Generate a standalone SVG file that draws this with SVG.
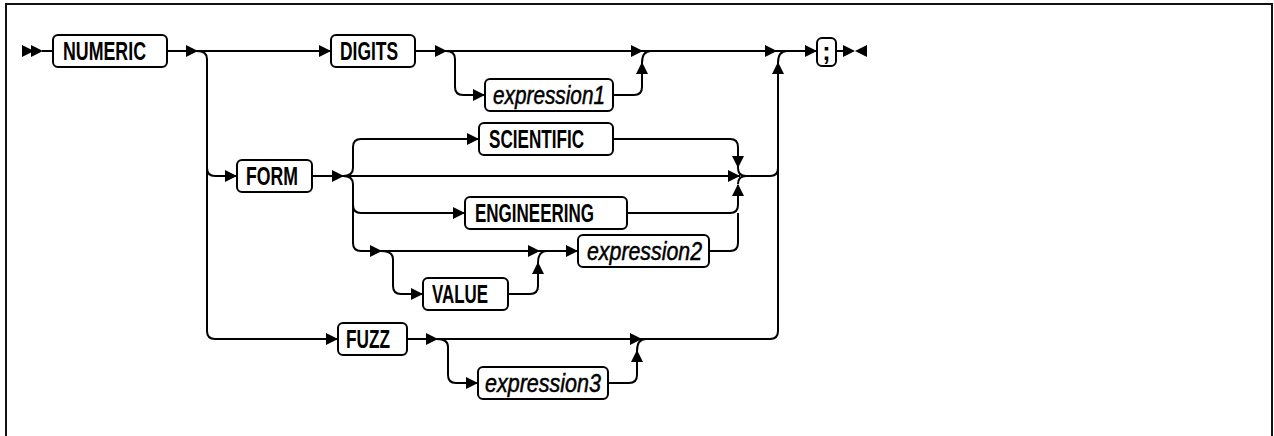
<svg xmlns="http://www.w3.org/2000/svg" xmlns:xlink="http://www.w3.org/1999/xlink" width="1274" height="436" viewBox="0 0 1274 436">
<style>
.bg{fill:#fff}
.frame{fill:none;stroke:#111;stroke-width:2}
.box{fill:#fff;stroke:#000;stroke-width:2}
.ln{fill:none;stroke:#000;stroke-width:2}
.kw{font-family:"Liberation Sans",Arial,sans-serif;font-weight:bold;font-size:25px;fill:#000}
.var{font-family:"Liberation Sans",Arial,sans-serif;font-style:italic;font-size:25px;fill:#000;stroke:#000;stroke-width:0.5}
.ah{fill:#000}
</style>
<defs>
<path id="ar" d="M-12,-6 L0,0 L-12,6 Z" class="ah"/>
<path id="au" d="M-6,12 L0,0 L6,12 Z" class="ah"/>
<path id="ad" d="M-6,-12 L0,0 L6,-12 Z" class="ah"/>
<path id="al" d="M12,-6 L0,0 L12,6 Z" class="ah"/>
</defs>
<rect class="bg" x="0" y="0" width="1274" height="436"/>
<rect class="frame" x="6" y="4" width="1266" height="460"/>

<g id="connectors">
<!-- start -->
<use href="#ar" x="34" y="51"/>
<use href="#ar" x="43" y="51"/>
<path class="ln" d="M42 51 H53"/>
<!-- NUMERIC to DIGITS -->
<path class="ln" d="M167 51 H331"/>
<use href="#ar" x="198" y="51"/>
<use href="#ar" x="331" y="51"/>
<path class="ln" d="M197 51 Q207 51 207 59 V331 Q207 339 215 339 H338"/>
<path class="ln" d="M207 168 Q207 176 215 176 H237"/>
<use href="#ar" x="237" y="176"/>
<use href="#ar" x="338" y="339"/>
<!-- DIGITS row -->
<path class="ln" d="M415 51 H817"/>
<use href="#ar" x="447" y="51"/>
<path class="ln" d="M446 51 Q455 51 455 59 V87 Q455 95 463 95 H485"/>
<use href="#ar" x="485" y="95"/>
<path class="ln" d="M613 95 H634 Q642 95 642 87 V63"/>
<use href="#au" x="642" y="62"/>
<path class="ln" d="M642 63 Q642 51 651 51"/>
<use href="#ar" x="643" y="51"/>
<use href="#ar" x="777" y="51"/>
<path class="ln" d="M778 331 V63"/>
<use href="#au" x="778" y="62"/>
<path class="ln" d="M778 63 Q778 51 787 51"/>
<use href="#ar" x="817" y="51"/>
<path class="ln" d="M836 51 H844"/>
<use href="#ar" x="855" y="51"/>
<use href="#al" x="855" y="51"/>
<!-- FORM block -->
<path class="ln" d="M312 176 H740"/>
<use href="#ar" x="344" y="176"/>
<path class="ln" d="M343 176 Q353 176 353 168 V147 Q353 139 361 139 H479"/>
<use href="#ar" x="479" y="139"/>
<path class="ln" d="M343 176 Q353 176 353 184 V243 Q353 251 361 251 H578"/>
<path class="ln" d="M353 205 Q353 213 361 213 H465"/>
<use href="#ar" x="465" y="213"/>
<path class="ln" d="M613 139 H730 Q738 139 738 147 V168"/>
<use href="#ad" x="738" y="168"/>
<path class="ln" d="M627 213 H730 Q738 213 738 205 V185"/>
<path class="ln" d="M709 251 H730 Q738 251 738 243 V213"/>
<use href="#au" x="738" y="184"/>
<use href="#ar" x="740" y="176"/>
<path class="ln" d="M738 168 Q738 176 746 176 M738 184 Q738 176 746 176 H770 Q778 176 778 168"/>
<!-- VALUE / expression2 -->
<use href="#ar" x="382" y="251"/>
<path class="ln" d="M381 251 Q393 251 393 259 V286 Q393 294 401 294 H423"/>
<use href="#ar" x="423" y="294"/>
<path class="ln" d="M508 294 H530 Q538 294 538 286 V263"/>
<use href="#au" x="538" y="262"/>
<path class="ln" d="M538 263 Q538 251 547 251"/>
<use href="#ar" x="540" y="251"/>
<use href="#ar" x="578" y="251"/>
<!-- FUZZ row -->
<path class="ln" d="M407 339 H770 Q778 339 778 331"/>
<use href="#ar" x="438" y="339"/>
<path class="ln" d="M437 339 Q448 339 448 347 V375 Q448 383 456 383 H478"/>
<use href="#ar" x="478" y="383"/>
<path class="ln" d="M608 383 H629 Q637 383 637 375 V351"/>
<use href="#au" x="637" y="350"/>
<path class="ln" d="M637 351 Q637 339 646 339"/>
<use href="#ar" x="642" y="339"/>
</g>

<g id="n-numeric"><rect class="box" x="53" y="35" width="114" height="32" rx="5"/><text class="kw" x="63" y="60" textLength="83" lengthAdjust="spacingAndGlyphs">NUMERIC</text></g>
<g id="n-digits"><rect class="box" x="331" y="35" width="84" height="32" rx="5"/><text class="kw" x="340" y="60" textLength="58" lengthAdjust="spacingAndGlyphs">DIGITS</text></g>
<g id="n-expression1"><rect class="box" x="485" y="79" width="128" height="32" rx="5"/><text class="var" x="493" y="104" textLength="112" lengthAdjust="spacingAndGlyphs">expression1</text></g>
<g id="n-semicolon"><rect class="box" x="817" y="38" width="19" height="28" rx="5"/><text class="kw" x="826.5" y="60" text-anchor="middle">;</text></g>
<g id="n-scientific"><rect class="box" x="479" y="123" width="134" height="32" rx="5"/><text class="kw" x="489" y="148" textLength="95" lengthAdjust="spacingAndGlyphs">SCIENTIFIC</text></g>
<g id="n-form"><rect class="box" x="237" y="160" width="75" height="32" rx="5"/><text class="kw" x="246" y="185" textLength="52" lengthAdjust="spacingAndGlyphs">FORM</text></g>
<g id="n-engineering"><rect class="box" x="465" y="197" width="162" height="32" rx="5"/><text class="kw" x="475" y="222" textLength="119" lengthAdjust="spacingAndGlyphs">ENGINEERING</text></g>
<g id="n-expression2"><rect class="box" x="578" y="235" width="131" height="32" rx="5"/><text class="var" x="587" y="260" textLength="115" lengthAdjust="spacingAndGlyphs">expression2</text></g>
<g id="n-value"><rect class="box" x="423" y="278" width="85" height="32" rx="5"/><text class="kw" x="432" y="303" textLength="56" lengthAdjust="spacingAndGlyphs">VALUE</text></g>
<g id="n-fuzz"><rect class="box" x="338" y="323" width="69" height="32" rx="5"/><text class="kw" x="346" y="348" textLength="44" lengthAdjust="spacingAndGlyphs">FUZZ</text></g>
<g id="n-expression3"><rect class="box" x="478" y="367" width="130" height="32" rx="5"/><text class="var" x="485" y="392" textLength="116" lengthAdjust="spacingAndGlyphs">expression3</text></g>
</svg>
